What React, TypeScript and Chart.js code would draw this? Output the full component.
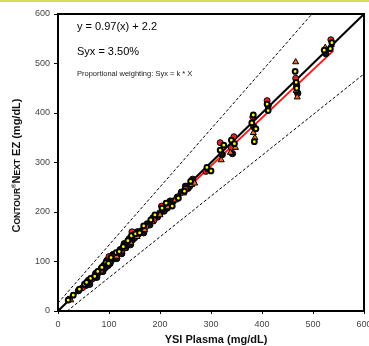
import React, { useEffect, useRef } from "react";
import { Chart, registerables } from "chart.js";
Chart.register(...registerables);

// Axis ticks
const axisMin = 0;
const axisMax = 600;
const tickStep = 100;

// Series: lot A (red circles)
const ysiA = [22, 48, 66, 84, 98, 100, 112, 125, 138, 145, 158, 172, 188, 203, 218, 235, 250, 265, 290, 318, 340, 345, 382, 410, 466, 535];
const meterA = [24, 47, 64, 82, 103, 110, 114, 122, 140, 160, 155, 170, 183, 212, 214, 230, 246, 260, 282, 340, 330, 352, 392, 425, 470, 548];

// Series: lot B (orange triangles)
const ysiB = [25, 50, 70, 88, 102, 115, 130, 142, 155, 170, 185, 200, 215, 230, 246, 262, 268, 295, 320, 338, 348, 383, 386, 411, 466, 467, 469, 524, 536];
const meterB = [22, 52, 72, 90, 99, 110, 126, 138, 150, 164, 180, 194, 210, 224, 238, 255, 258, 285, 305, 320, 330, 360, 350, 408, 503, 445, 432, 532, 538];

// Series: lot C (yellow, black ring)
const ysiC = [20, 30, 42, 52, 56, 64, 72, 78, 86, 94, 99, 104, 114, 120, 128, 137, 144, 152, 160, 168, 182, 190, 204, 212, 224, 236, 248, 260, 292, 300, 318, 325, 340, 346, 380, 383, 385, 388, 410, 412, 465, 467, 468, 522, 534, 537];
const meterC = [22, 32, 44, 54, 58, 66, 70, 80, 88, 98, 96, 108, 118, 120, 130, 142, 152, 156, 158, 172, 184, 194, 208, 218, 212, 228, 242, 262, 290, 283, 325, 335, 345, 338, 380, 396, 342, 368, 418, 405, 484, 462, 450, 527, 530, 542];

// Series: lot D (black circles)
const ysiD = [40, 55, 60, 62, 68, 74, 76, 80, 85, 88, 90, 93, 96, 98, 100, 102, 106, 108, 110, 115, 117, 122, 125, 127, 130, 133, 136, 140, 142, 146, 150, 153, 156, 164, 168, 175, 180, 186, 195, 200, 208, 214, 220, 226, 234, 242, 250, 255, 258, 264, 322, 342, 384, 412, 468, 470, 525];
const meterD = [41, 52, 62, 54, 66, 76, 68, 78, 86, 80, 92, 88, 102, 92, 104, 96, 104, 114, 112, 106, 116, 124, 116, 126, 136, 128, 138, 146, 134, 144, 148, 158, 160, 162, 158, 176, 174, 188, 190, 198, 202, 208, 222, 222, 230, 240, 252, 248, 252, 266, 316, 318, 372, 415, 455, 440, 520];

// Reference lines
const identityX = [0, 600];
const identityY = [0, 600];
const regressionX = [20, 540];
const regressionY = [21.6, 526];
const upperX = [0, 498];
const upperY = [16, 600];
const lowerX = [18, 600];
const lowerY = [0, 479];

const zip = (xs: number[], ys: number[]) => xs.map((x, i) => ({ x, y: ys[i] }));

const FONT = "'Liberation Sans', Arial, sans-serif";

const overlayPlugin = {
  id: "overlay",
  afterDatasetsDraw(chart: any) {
    const { ctx, chartArea } = chart;
    ctx.save();
    ctx.strokeStyle = "#000";
    ctx.lineWidth = 2;
    ctx.strokeRect(chartArea.left, chartArea.top, chartArea.right - chartArea.left, chartArea.bottom - chartArea.top);
    ctx.restore();
  },
  afterDraw(chart: any) {
    const { ctx, chartArea } = chart;
    ctx.save();
    ctx.fillStyle = "#000";
    ctx.textBaseline = "middle";
    ctx.textAlign = "left";
    ctx.font = `11px ${FONT}`;
    ctx.fillText("y = 0.97(x) + 2.2", 77, 27);
    ctx.fillText("Syx = 3.50%", 77, 52);
    ctx.font = `7.5px ${FONT}`;
    ctx.fillStyle = "#222";
    ctx.fillText("Proportional weighting: Syx = k * X", 77, 74);

    // x title
    ctx.fillStyle = "#111";
    ctx.font = `bold 11px ${FONT}`;
    ctx.textAlign = "center";
    ctx.fillText("YSI Plasma (mg/dL)", (chartArea.left + chartArea.right) / 2 + 5, 340);

    // y title with small caps
    const segs: [string, number, number][] = [
      ["C", 11, 0],
      ["ONTOUR", 8.5, 0],
      ["®", 6, -4],
      ["N", 11, 0],
      ["EXT", 8.5, 0],
      [" EZ (mg/dL)", 11, 0],
    ];
    ctx.textAlign = "left";
    ctx.textBaseline = "alphabetic";
    let total = 0;
    const widths = segs.map(([t, s]) => {
      ctx.font = `bold ${s}px ${FONT}`;
      const w = ctx.measureText(t).width;
      total += w;
      return w;
    });
    ctx.translate(20, (chartArea.top + chartArea.bottom) / 2 + 3);
    ctx.rotate(-Math.PI / 2);
    let x = -total / 2;
    segs.forEach(([t, s, dy], i) => {
      ctx.font = `bold ${s}px ${FONT}`;
      ctx.fillText(t, x, dy);
      x += widths[i];
    });
    ctx.restore();
  },
};

export default function App() {
  const ref = useRef<HTMLCanvasElement>(null);
  useEffect(() => {
    if (!ref.current) return;
    const lineDs = (label: string, xs: number[], ys: number[], color: string, width: number, dash: number[], order: number) => ({
      type: "line" as const,
      label,
      data: zip(xs, ys),
      borderColor: color,
      borderWidth: width,
      borderDash: dash,
      pointRadius: 0,
      showLine: true,
      fill: false,
      order,
    });
    const chart = new Chart(ref.current, {
      type: "scatter",
      data: {
        datasets: [
          lineDs("upper", upperX, upperY, "#000", 1, [3, 2], 6),
          lineDs("lower", lowerX, lowerY, "#000", 1, [3, 2], 6),
          lineDs("regression", regressionX, regressionY, "#ff1a1a", 2, [], 5),
          lineDs("identity", identityX, identityY, "#000", 2, [], 5),
          {
            label: "Lot C",
            data: zip(ysiC, meterC),
            pointStyle: "circle",
            pointRadius: 2.4,
            backgroundColor: "#ffff00",
            borderColor: "#000",
            borderWidth: 2,
            order: 1,
          },
          {
            label: "Lot B",
            data: zip(ysiB, meterB),
            pointStyle: "triangle",
            pointRadius: 3.5,
            backgroundColor: "#f26b1d",
            borderColor: "#000",
            borderWidth: 1,
            order: 2,
          },
          {
            label: "Lot A",
            data: zip(ysiA, meterA),
            pointStyle: "circle",
            pointRadius: 3,
            backgroundColor: "#e3242b",
            borderColor: "#000",
            borderWidth: 1,
            order: 3,
          },
          {
            label: "Lot D",
            data: zip(ysiD, meterD),
            pointStyle: "circle",
            pointRadius: 3.2,
            backgroundColor: "#111",
            borderColor: "#000",
            borderWidth: 1,
            order: 4,
          },
        ] as any,
      },
      options: {
        animation: false,
        responsive: false,
        maintainAspectRatio: false,
        layout: { padding: { top: 14, right: 21, left: 0, bottom: 0 } },
        plugins: { legend: { display: false }, tooltip: { enabled: false } },
        scales: {
          x: {
            type: "linear",
            min: axisMin,
            max: axisMax,
            ticks: { stepSize: tickStep, color: "#444", font: { size: 9, family: FONT }, padding: 5, maxRotation: 0 },
            grid: { drawOnChartArea: false, drawTicks: true, tickLength: 3, color: "#000" },
            border: { display: true, color: "#000", width: 2 },
            afterFit: (s: any) => { s.height = 35; },
          },
          y: {
            type: "linear",
            min: axisMin,
            max: axisMax,
            ticks: { stepSize: tickStep, color: "#444", font: { size: 9, family: FONT }, padding: 4 },
            grid: { drawOnChartArea: false, drawTicks: true, tickLength: 4, color: "#000" },
            border: { display: true, color: "#000", width: 2 },
            afterFit: (s: any) => { s.width = 58; },
          },
        },
      },
      plugins: [overlayPlugin],
    });
    return () => chart.destroy();
  }, []);
  return (
    <div style={{ position: "fixed", left: 0, top: 0, width: 369, height: 346, overflow: "hidden", background: "#fff" }}>
      <canvas ref={ref} width={385} height={346} style={{ width: 385, height: 346, display: "block" }} />
      <div style={{ position: "absolute", left: 0, top: 0, width: 369, height: 2, background: "#d5de55" }} />
    </div>
  );
}
